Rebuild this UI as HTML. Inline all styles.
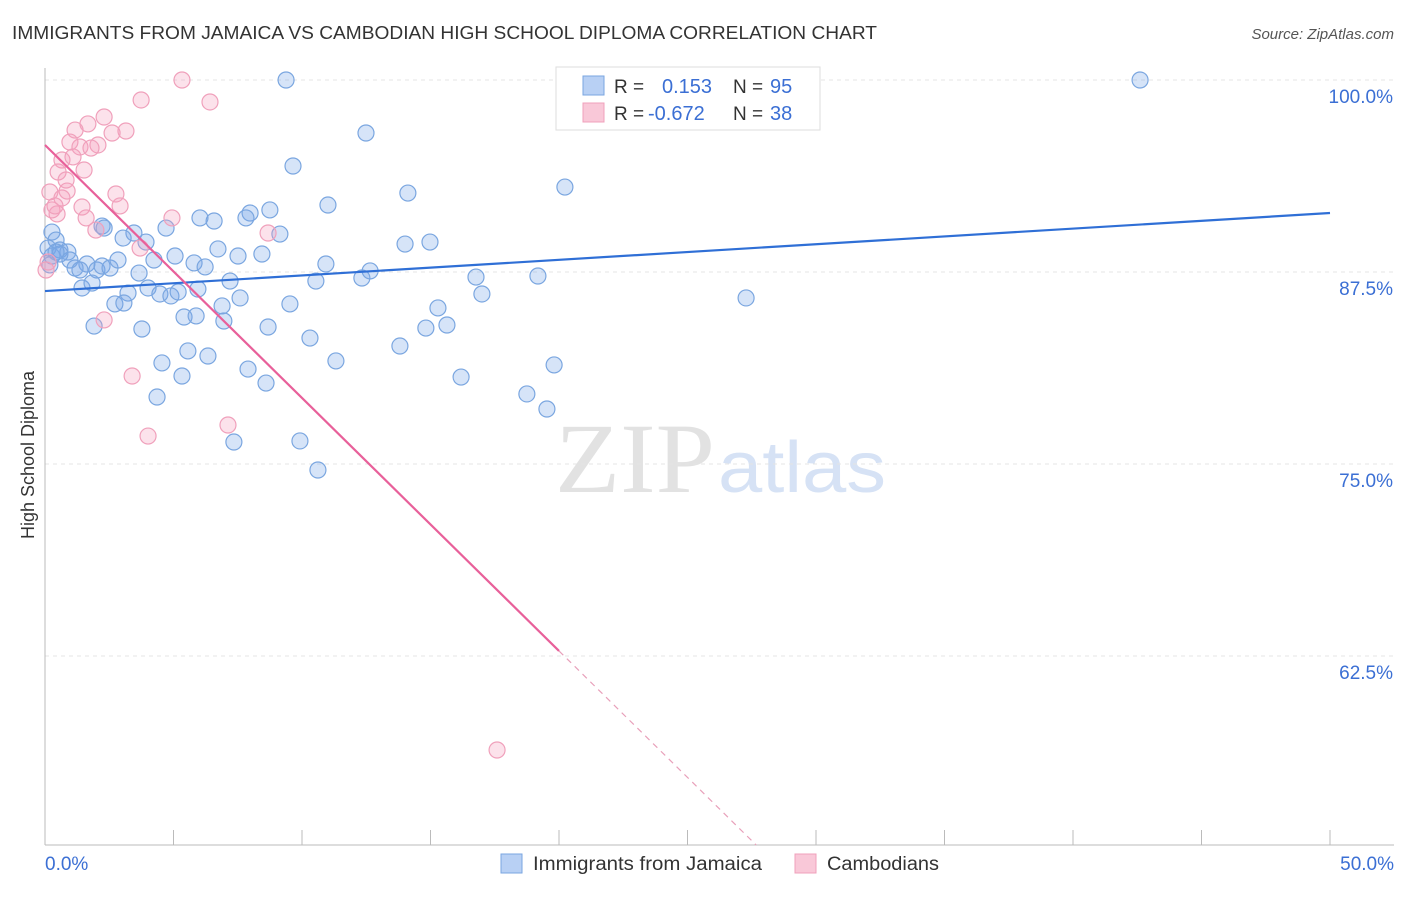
<!DOCTYPE html>
<html><head><meta charset="utf-8"><style>
body{margin:0;background:#fff;font-family:"Liberation Sans",sans-serif;}
</style></head><body>
<svg id="chart" width="1406" height="892" xmlns="http://www.w3.org/2000/svg">
<text x="12" y="39" font-size="18" fill="#333" textLength="865" lengthAdjust="spacingAndGlyphs">IMMIGRANTS FROM JAMAICA VS CAMBODIAN HIGH SCHOOL DIPLOMA CORRELATION CHART</text>
<text x="1394" y="39" font-size="15" fill="#555" font-style="italic" text-anchor="end">Source: ZipAtlas.com</text>
<text x="34" y="455" font-size="18" fill="#333" text-anchor="middle" transform="rotate(-90 34 455)">High School Diploma</text>
<text x="555" y="492" font-size="100" fill="#e2e2e2" textLength="160" lengthAdjust="spacingAndGlyphs" font-family="Liberation Serif,serif">ZIP</text>
<text x="718" y="492" font-size="72" fill="#d6e2f5" textLength="168" lengthAdjust="spacingAndGlyphs">atlas</text>
<g id="grid"></g><g id="pts"></g><g id="lines"></g>
<g>
<rect x="556" y="67" width="264" height="63" fill="#fff" stroke="#ddd"/>
<rect x="583" y="76" width="21" height="19" fill="#b8d0f4" stroke="#7aa6e0"/>
<rect x="583" y="103" width="21" height="19" fill="#f9c8d8" stroke="#f0a0bb"/>
<text x="614" y="93" font-size="19" fill="#333">R = </text><text x="662" y="93" font-size="20" fill="#3b6fd4">0.153</text>
<text x="733" y="93" font-size="19" fill="#333">N = </text><text x="770" y="93" font-size="20" fill="#3b6fd4">95</text>
<text x="614" y="120" font-size="19" fill="#333">R = </text><text x="648" y="120" font-size="20" fill="#3b6fd4">-0.672</text>
<text x="733" y="120" font-size="19" fill="#333">N = </text><text x="770" y="120" font-size="20" fill="#3b6fd4">38</text>
</g>
<g>
<rect x="501" y="854" width="21" height="19" fill="#b8d0f4" stroke="#7aa6e0"/>
<text x="533" y="870" font-size="19" fill="#333" textLength="229" lengthAdjust="spacingAndGlyphs">Immigrants from Jamaica</text>
<rect x="795" y="854" width="21" height="19" fill="#f9c8d8" stroke="#f0a0bb"/>
<text x="827" y="870" font-size="19" fill="#333" textLength="112" lengthAdjust="spacingAndGlyphs">Cambodians</text>
</g>
</svg>
<script>
const yTicks=[100,87.5,75,62.5];
const yTickLabels=["100.0%","87.5%","75.0%","62.5%"];
const xTickLabels=["0.0%","50.0%"];
const blueLine=[86.26,91.34];
const pinkLine=[95.77,62.83,50.45];
const pinkSolidEnd=20;
const bluePx=[[286,80],[566,80],[1140,80],[366,133],[293,166],[408,193],[565,187],[328,205],[270,210],[250,213],[246,218],[200,218],[214,221],[102,226],[166,228],[134,233],[123,238],[146,242],[280,234],[405,244],[430,242],[52,232],[56,240],[48,248],[60,250],[68,252],[52,256],[70,260],[87,264],[75,268],[80,270],[97,270],[102,266],[110,268],[118,260],[154,260],[175,256],[194,263],[205,267],[218,249],[238,256],[262,254],[139,273],[230,281],[316,281],[326,264],[362,278],[370,271],[476,277],[538,276],[82,288],[92,283],[128,293],[148,288],[160,294],[171,296],[178,292],[198,289],[240,298],[290,304],[115,304],[124,303],[222,306],[184,317],[196,316],[224,321],[438,308],[482,294],[746,298],[94,326],[142,329],[268,327],[426,328],[447,325],[310,338],[400,346],[188,351],[208,356],[162,363],[336,361],[248,369],[182,376],[266,383],[461,377],[554,365],[157,397],[527,394],[547,409],[234,442],[300,441],[318,470],[50,265],[60,254],[104,228],[56,252]];
const pinkPx=[[182,80],[141,100],[210,102],[104,117],[88,124],[126,131],[112,133],[75,130],[70,142],[98,145],[80,147],[91,148],[62,160],[73,157],[58,172],[84,170],[50,192],[67,191],[116,194],[62,198],[52,210],[57,214],[82,207],[120,206],[86,218],[172,218],[96,230],[268,233],[140,248],[48,262],[46,270],[104,320],[132,376],[228,425],[148,436],[497,750],[66,180],[55,206]];
const toData=p=>[+((p[0]-45)*50/1285).toFixed(2),+(100-(p[1]-80)*12.5/192).toFixed(2)];
const jamaicaX=bluePx.map(p=>toData(p)[0]), jamaicaY=bluePx.map(p=>toData(p)[1]);
const cambodX=pinkPx.map(p=>toData(p)[0]), cambodY=pinkPx.map(p=>toData(p)[1]);
const X=v=>45+v/50*1285, Y=v=>80+(100-v)/12.5*192;
const NS="http://www.w3.org/2000/svg";
function mk(tag,attrs,parent){const e=document.createElementNS(NS,tag);for(const k in attrs)e.setAttribute(k,attrs[k]);parent.appendChild(e);return e;}
const grid=document.getElementById('grid');
yTicks.forEach((t,i)=>{
 const l=mk('line',{x1:45,x2:1394,y1:Y(t),y2:Y(t),stroke:'#e4e4e4','stroke-dasharray':'4,4'},grid);
 
 
 const tx=mk('text',{x:1393,y:Y(t)+23,'font-size':19,fill:'#3b6fd4','text-anchor':'end'},grid);
 tx.textContent=yTickLabels[i];
 
 
});
const ax=mk('line',{x1:45,x2:1394,y1:845,y2:845,stroke:'#bbb'},grid);


const ay=mk('line',{x1:45,x2:45,y1:68,y2:845,stroke:'#bbb'},grid);


for(let i=0;i<=10;i++){const t=mk('line',{x1:X(i*5),x2:X(i*5),y1:830,y2:845,stroke:'#bbb'},grid);
 
 }
[[0,45,'start'],[50,1394,'end']].forEach((d,i)=>{const t=mk('text',{x:d[1],y:870,'font-size':19,fill:'#3b6fd4','text-anchor':d[2]},grid);t.textContent=xTickLabels[i];
 
 });
const pts=document.getElementById('pts');
jamaicaX.forEach((x,i)=>{const c=mk('circle',{cx:X(x),cy:Y(jamaicaY[i]),r:8,fill:'rgba(120,165,232,0.3)',stroke:'#7aa6e0','stroke-width':1.2},pts);
 
 });
cambodX.forEach((x,i)=>{const c=mk('circle',{cx:X(x),cy:Y(cambodY[i]),r:8,fill:'rgba(244,160,190,0.3)',stroke:'#f0a0bb','stroke-width':1.2},pts);
 
 });
const lines=document.getElementById('lines');
const bl=mk('line',{x1:X(0),y1:Y(blueLine[0]),x2:X(50),y2:Y(blueLine[1]),stroke:'#2f6fd6','stroke-width':2.2},lines);


const pl=mk('line',{x1:X(0),y1:Y(pinkLine[0]),x2:X(pinkSolidEnd),y2:Y(pinkLine[1]),stroke:'#e8609a','stroke-width':2.2},lines);


const slope=(pinkLine[1]-pinkLine[0])/pinkSolidEnd, yEnd=100-(845-80)*12.5/192, xEnd=(yEnd-pinkLine[0])/slope;
const pd=mk('line',{x1:X(pinkSolidEnd),y1:Y(pinkLine[1]),x2:X(xEnd),y2:Y(yEnd),stroke:'#e8a0ba','stroke-width':1.2,'stroke-dasharray':'6,5'},lines);


</script>
</body></html>
